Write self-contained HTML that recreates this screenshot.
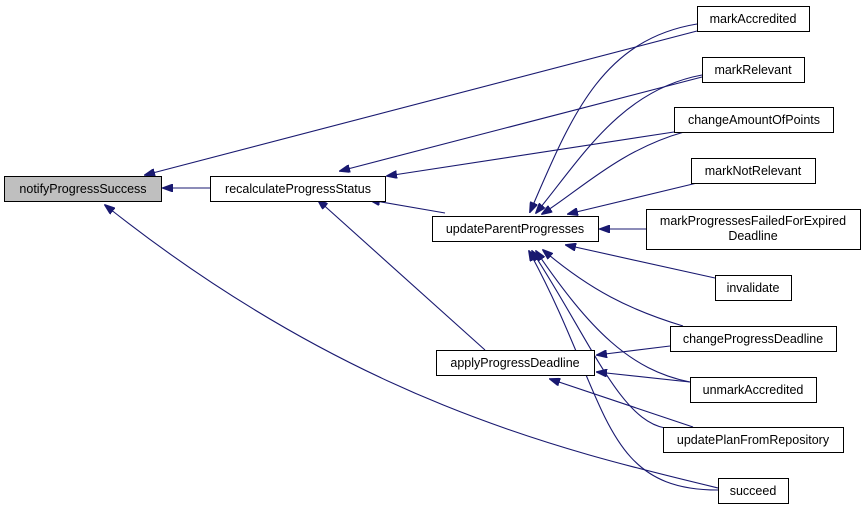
<!DOCTYPE html>
<html><head><style>
body{margin:0;background:#fff;width:867px;height:509px;overflow:hidden}
svg text{font-family:"Liberation Sans",sans-serif;font-size:12.5px;fill:#000}
</style></head><body>
<svg width="867" height="509" xmlns="http://www.w3.org/2000/svg">
<defs><marker id="a" markerWidth="11" markerHeight="8" refX="10" refY="4" orient="auto" markerUnits="userSpaceOnUse"><path d="M0,0 L11,4 L0,8 z" fill="#191970" stroke="#191970"/></marker></defs>
<g fill="none" stroke="#191970" stroke-width="1.1" marker-end="url(#a)">
<path d="M697,31 L145,175"/>
<path d="M702,77 L340,171"/>
<path d="M674,132 L387,176"/>
<path d="M210,188 L163,188"/>
<path d="M445,213 L370,200"/>
<path d="M485,350 L318,200"/>
<path d="M718,488 C560,450 350,400 105,205"/>
<path d="M697,24 C600,40 570,120 530,212"/>
<path d="M702,75 C620,90 580,160 536,213"/>
<path d="M684,132 C620,150 580,190 542,214"/>
<path d="M697,183 L568,214"/>
<path d="M646,229 L600,229"/>
<path d="M715,278 L566,245"/>
<path d="M683,326 C630,310 590,290 543,250"/>
<path d="M690,382 C630,370 590,330 536,251"/>
<path d="M665,428 C620,420 590,340 532,251"/>
<path d="M718,490 C600,490 610,400 529,251"/>
<path d="M670,346 L597,355"/>
<path d="M690,382 L597,372"/>
<path d="M693,427 L550,379"/>
</g>
<g stroke="#000" stroke-width="1" fill="#fff">
<rect x="4.5" y="176.5" width="157" height="25" fill="#bfbfbf"/>
<rect x="210.5" y="176.5" width="175" height="25"/>
<rect x="432.5" y="216.5" width="166" height="25"/>
<rect x="436.5" y="350.5" width="158" height="25"/>
<rect x="697.5" y="6.5" width="112" height="25"/>
<rect x="702.5" y="57.5" width="102" height="25"/>
<rect x="674.5" y="107.5" width="159" height="25"/>
<rect x="691.5" y="158.5" width="124" height="25"/>
<rect x="646.5" y="209.5" width="214" height="40"/>
<rect x="715.5" y="275.5" width="76" height="25"/>
<rect x="670.5" y="326.5" width="166" height="25"/>
<rect x="690.5" y="377.5" width="126" height="25"/>
<rect x="663.5" y="427.5" width="180" height="25"/>
<rect x="718.5" y="478.5" width="70" height="25"/>
</g>
<g text-anchor="middle">
<text x="83" y="193">notifyProgressSuccess</text>
<text x="298" y="193">recalculateProgressStatus</text>
<text x="515" y="233">updateParentProgresses</text>
<text x="515" y="367">applyProgressDeadline</text>
<text x="753" y="23">markAccredited</text>
<text x="753" y="74">markRelevant</text>
<text x="754" y="124">changeAmountOfPoints</text>
<text x="753" y="175">markNotRelevant</text>
<text x="753" y="225">markProgressesFailedForExpired</text>
<text x="753" y="240">Deadline</text>
<text x="753" y="292">invalidate</text>
<text x="753" y="343">changeProgressDeadline</text>
<text x="753" y="394">unmarkAccredited</text>
<text x="753" y="444">updatePlanFromRepository</text>
<text x="753" y="495">succeed</text>
</g>
</svg>
</body></html>
